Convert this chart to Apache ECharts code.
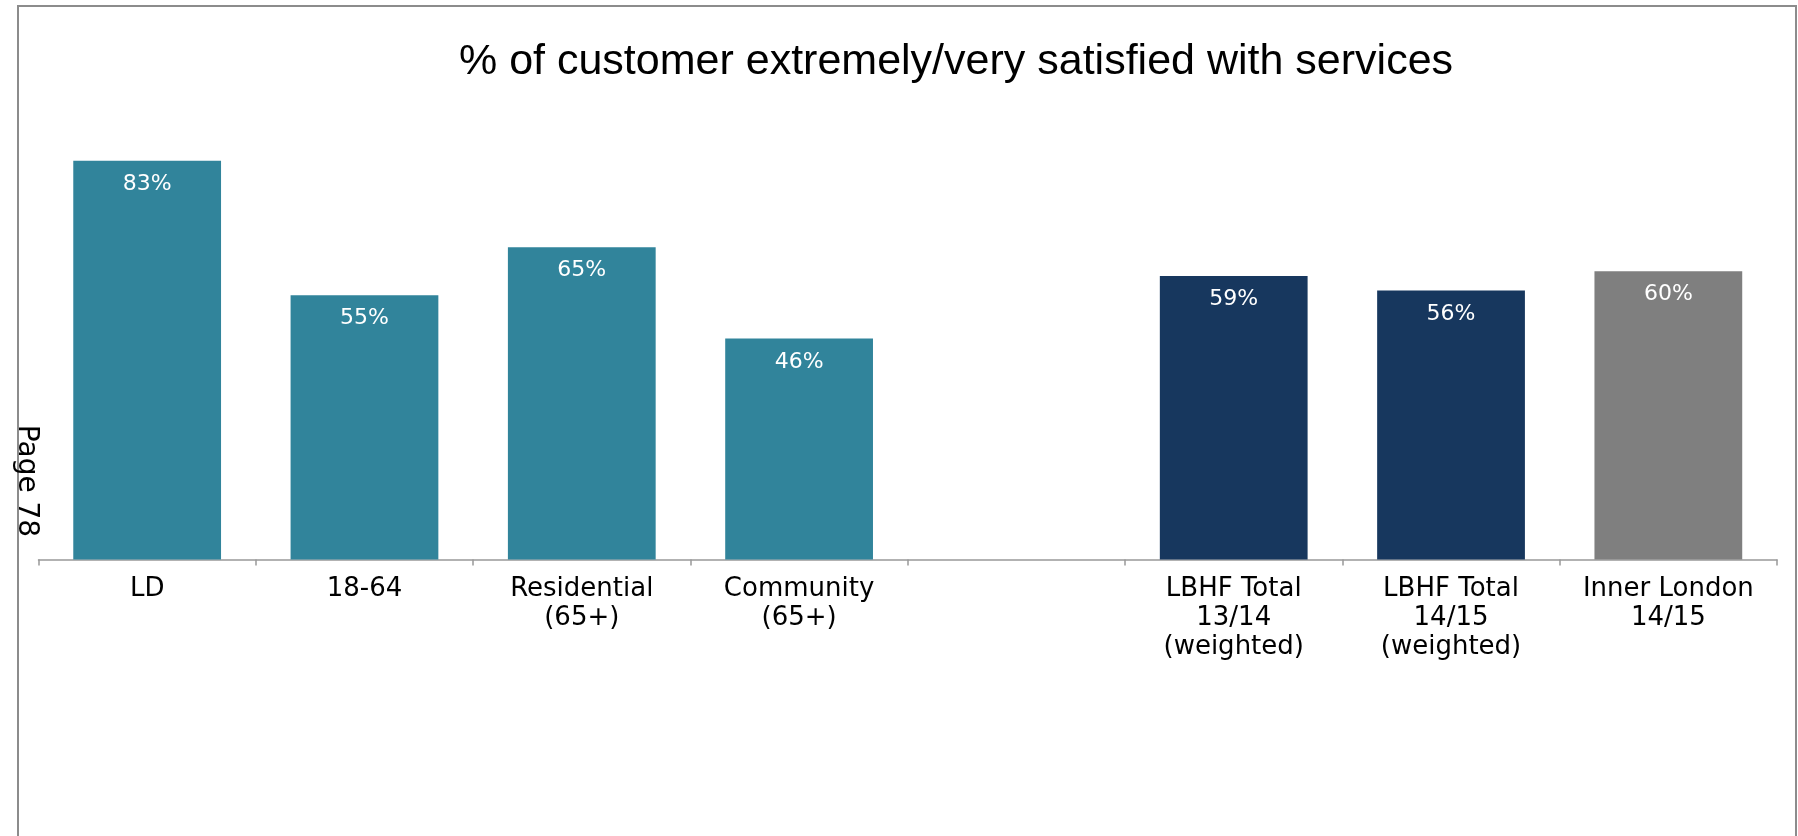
<!DOCTYPE html>
<html>
<head>
<meta charset="utf-8">
<title>Customer satisfaction</title>
<script src="https://cdn.jsdelivr.net/npm/echarts@6/dist/echarts.min.js"></script>
<style>
    html, body { margin: 0; padding: 0; background: #fff; }
    #main { width: 1798px; height: 836px; }
</style>
</head>
<body>
<div id="main"></div>
<script>
// 数据
var titleText = '% of customer extremely/very satisfied with services';
var categories = ['LD', '18-64', 'Residential\n(65+)', 'Community\n(65+)', '',
    'LBHF Total\n13/14\n(weighted)', 'LBHF Total\n14/15\n(weighted)', 'Inner London\n14/15'];
var values = [83, 55, 65, 46, null, 59, 56, 60];
var groups = ['client', 'client', 'client', 'client', '', 'total', 'total', 'london'];
var pageNote = 'Page 78';

// 颜色
var colors = {
    client: '#31849B',
    total: '#17375E',
    london: '#7F7F7F'
};

var barData = [];
for (var i = 0; i < values.length; i++) {
    if (values[i] === null) {
        barData.push('-');  // 空位，不画柱子
        continue;
    }
    barData.push({
        value: values[i],
        itemStyle: { color: colors[groups[i]] }
    });
}

var myChart = echarts.init(document.getElementById('main'));
var option = {
    backgroundColor: '#fff',
    animation: false,
    grid: {
        left: 38.5,
        right: 21,
        top: 79,
        bottom: 276.5
    },
    xAxis: {
        type: 'category',
        data: categories,
        axisLine: { show: true, lineStyle: { color: '#999', width: 1.5 } },
        axisTick: { show: true, alignWithLabel: false, length: 6, lineStyle: { color: '#999', width: 1.5 } },
        axisLabel: {
            interval: 0,
            margin: 15.5,
            color: '#000',
            fontFamily: 'DejaVu Sans',
            fontSize: 26,
            lineHeight: 29
        }
    },
    yAxis: {
        type: 'value',
        min: 0,
        max: 100,
        show: false
    },
    graphic: [
        {
            type: 'rect',
            shape: { x: 18, y: 6, width: 1778, height: 900 },
            style: { fill: 'none', stroke: '#8c8c8c', lineWidth: 2 },
            silent: true
        },
        {
            type: 'text',
            x: 956,
            y: 62,
            style: {
                text: titleText,
                font: '43px "Liberation Sans", Arial, sans-serif',
                fill: '#000',
                align: 'center',
                verticalAlign: 'middle'
            }
        },
        {
            type: 'text',
            x: 26,
            y: 481,
            rotation: -Math.PI / 2,
            style: {
                text: pageNote,
                font: '28px "DejaVu Sans", sans-serif',
                fill: '#000',
                align: 'center',
                verticalAlign: 'middle'
            }
        }
    ],
    series: [
        {
            type: 'bar',
            data: barData,
            barWidth: '68%',
            label: {
                show: true,
                position: 'insideTop',
                distance: 12.5,
                color: '#fff',
                fontFamily: 'DejaVu Sans',
                fontSize: 22,
                formatter: '{c}%'
            }
        }
    ]
};
myChart.setOption(option);
</script>
</body>
</html>
